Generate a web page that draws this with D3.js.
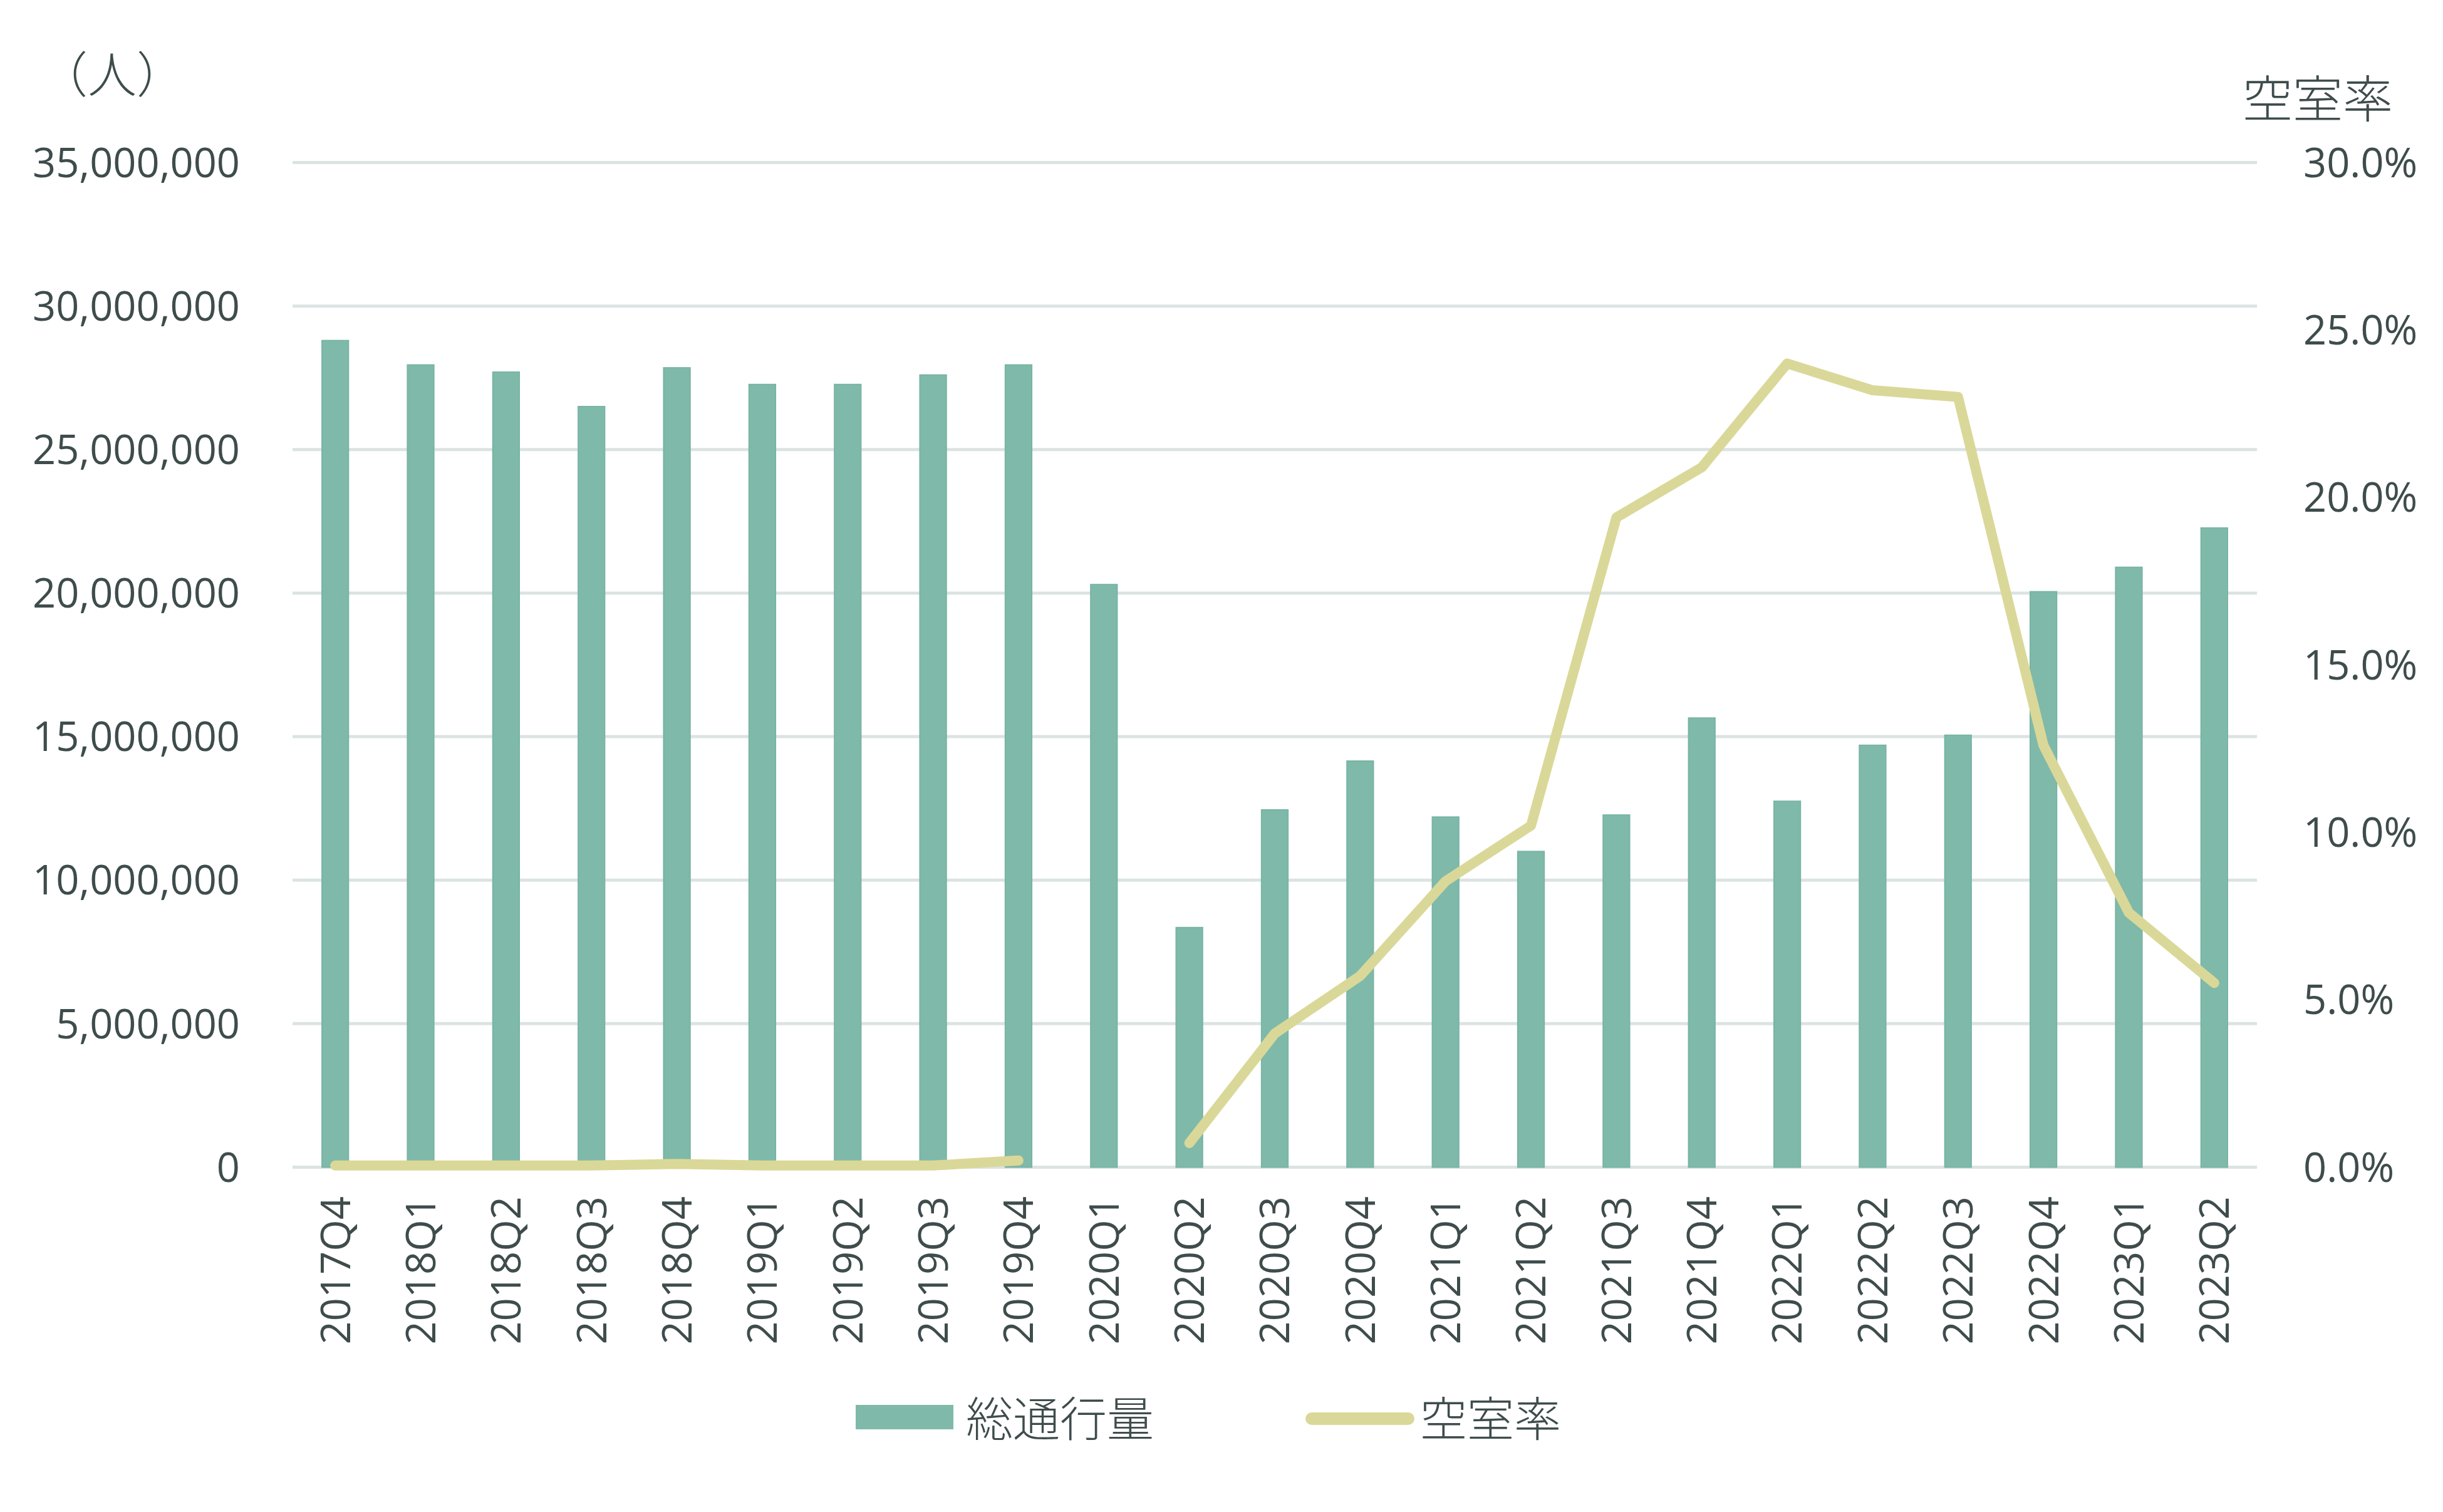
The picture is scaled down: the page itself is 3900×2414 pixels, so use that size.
<!DOCTYPE html>
<html>
<head>
<meta charset="utf-8">
<script src="https://cdn.jsdelivr.net/npm/d3@7"></script>
<style>
  html, body { margin: 0; padding: 0; background: #ffffff; }
  svg { display: block; }
</style>
</head>
<body>
<script>
const categories = ["2017Q4","2018Q1","2018Q2","2018Q3","2018Q4","2019Q1","2019Q2","2019Q3","2019Q4",
  "2020Q1","2020Q2","2020Q3","2020Q4","2021Q1","2021Q2","2021Q3","2021Q4",
  "2022Q1","2022Q2","2022Q3","2022Q4","2023Q1","2023Q2"];
const traffic = [28800000, 27950000, 27700000, 26500000, 27850000, 27270000, 27270000, 27600000, 27950000,
  20300000, 8350000, 12450000, 14150000, 12200000, 11000000, 12270000, 15650000,
  12750000, 14700000, 15050000, 20050000, 20900000, 22270000];
const vacancy = [0.0005, 0.0005, 0.0005, 0.0005, 0.001, 0.0005, 0.0005, 0.0005, 0.002,
  null, 0.0072, 0.0399, 0.0571, 0.0854, 0.102, 0.194, 0.209,
  0.240, 0.232, 0.230, 0.126, 0.076, 0.055];
const leftTicks = [0, 5000000, 10000000, 15000000, 20000000, 25000000, 30000000, 35000000];
const rightTicks = [0, 0.05, 0.10, 0.15, 0.20, 0.25, 0.30];
const seriesNames = ["総通行量", "空室率"];
const leftTitle = "（人）";
const rightTitle = "空室率";

const W = 3900, H = 2414;
const plot = { left: 467, right: 3603, top: 259.5, bottom: 1863.5 };
const barColor = "#7fb9aa", lineColor = "#dad898", gridColor = "#dce3e3", textColor = "#3f4c4c";
const latinFont = "'Open Sans', 'Noto Sans CJK JP', sans-serif";
const cjkFont = "'Noto Sans CJK JP', sans-serif";

const svg = d3.select("body").append("svg").attr("width", W).attr("height", H);
svg.append("rect").attr("width", W).attr("height", H).attr("fill", "#fff");

const x = d3.scaleBand().domain(categories).range([plot.left, plot.right]).paddingInner(0.69).paddingOuter(0.345);
const yL = d3.scaleLinear().domain([0, 35000000]).range([plot.bottom, plot.top]);
const yR = d3.scaleLinear().domain([0, 0.30]).range([plot.bottom, plot.top]);

// gridlines
svg.append("g").selectAll("line").data(leftTicks).join("line")
  .attr("x1", plot.left).attr("x2", plot.right)
  .attr("y1", d => yL(d)).attr("y2", d => yL(d))
  .attr("stroke", gridColor).attr("stroke-width", 5);

// left axis
const fmt = d3.format(",");
const gL = svg.append("g").attr("transform", `translate(383,0)`)
  .call(d3.axisLeft(yL).tickValues(leftTicks).tickFormat(d => fmt(d)).tickSize(0).tickPadding(0));
gL.select(".domain").remove();
gL.selectAll("text").attr("font-family", latinFont).attr("font-size", 65).attr("fill", textColor)
  .attr("dy", "0.35em");

// right axis
const gR = svg.append("g").attr("transform", `translate(3677,0)`)
  .call(d3.axisRight(yR).tickValues(rightTicks).tickFormat(d3.format(".1%")).tickSize(0).tickPadding(0));
gR.select(".domain").remove();
gR.selectAll("text").attr("font-family", latinFont).attr("font-size", 65).attr("fill", textColor)
  .attr("dy", "0.35em").attr("text-anchor", "start");

// bars
svg.append("g").selectAll("rect").data(categories).join("rect")
  .attr("x", d => x(d)).attr("width", x.bandwidth())
  .attr("y", (d, i) => yL(traffic[i])).attr("height", (d, i) => yL(0) - yL(traffic[i]))
  .attr("fill", barColor).attr("stroke", "#78b4a4").attr("stroke-width", 2);

// line
const line = d3.line()
  .defined(d => d.v !== null)
  .x(d => x(d.c) + x.bandwidth() / 2)
  .y(d => yR(d.v));
svg.append("path")
  .datum(categories.map((c, i) => ({ c, v: vacancy[i] })))
  .attr("d", line).attr("fill", "none").attr("stroke", lineColor)
  .attr("stroke-width", 16).attr("stroke-linejoin", "round").attr("stroke-linecap", "round");

// x axis labels
const gX = svg.append("g").attr("transform", `translate(0,1910)`)
  .call(d3.axisBottom(x).tickSize(0).tickPadding(0));
gX.select(".domain").remove();
gX.selectAll("text")
  .attr("font-family", latinFont).attr("font-size", 65).attr("fill", textColor)
  .attr("transform", "rotate(-90)").attr("text-anchor", "end")
  .attr("x", 0).attr("y", 0).attr("dy", "0.36em");

// axis titles
svg.append("text").attr("x", 179).attr("y", 114).attr("text-anchor", "middle")
  .attr("dominant-baseline", "central").attr("font-family", cjkFont).attr("font-size", 78)
  .attr("font-weight", 300).attr("fill", textColor).text(leftTitle);
svg.append("text").attr("x", 3700).attr("y", 152).attr("text-anchor", "middle")
  .attr("dominant-baseline", "central").attr("font-family", cjkFont).attr("font-size", 80)
  .attr("font-weight", 300).attr("fill", textColor).text(rightTitle);

// legend
const lg = svg.append("g");
lg.append("rect").attr("x", 1366).attr("y", 2243).attr("width", 156).attr("height", 39).attr("fill", barColor);
lg.append("text").attr("x", 1542).attr("y", 2260).attr("dominant-baseline", "central")
  .attr("font-family", cjkFont).attr("font-size", 75).attr("font-weight", 300)
  .attr("fill", textColor).text(seriesNames[0]);
lg.append("line").attr("x1", 2094).attr("x2", 2248).attr("y1", 2265).attr("y2", 2265)
  .attr("stroke", lineColor).attr("stroke-width", 20).attr("stroke-linecap", "round");
lg.append("text").attr("x", 2267).attr("y", 2260).attr("dominant-baseline", "central")
  .attr("font-family", cjkFont).attr("font-size", 75).attr("font-weight", 300)
  .attr("fill", textColor).text(seriesNames[1]);
</script>
</body>
</html>
